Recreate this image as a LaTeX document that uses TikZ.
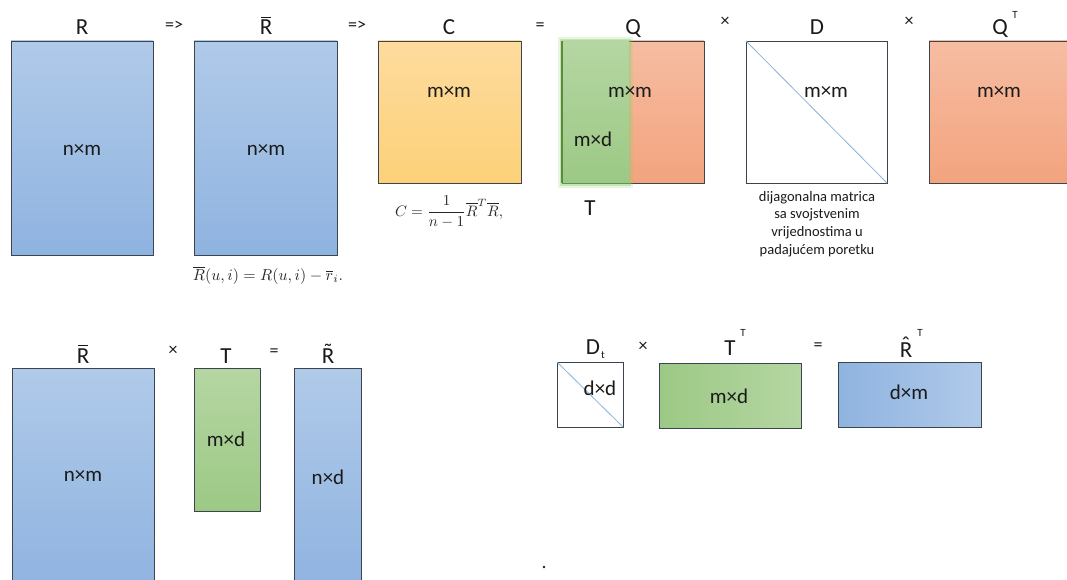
\documentclass[tikz,border=0pt]{standalone}
\usepackage{amsmath}
\usepackage{graphicx}
\usepackage{fontspec}
\setmainfont{Carlito}
\definecolor{bluetop}{HTML}{B0CAE9}
\definecolor{bluebot}{HTML}{8FB3E0}
\definecolor{orgtop}{HTML}{FEDB9E}
\definecolor{orgbot}{HTML}{FCD178}
\definecolor{saltop}{HTML}{F6BDA2}
\definecolor{salbot}{HTML}{F3A37E}
\definecolor{grntop}{HTML}{B5D6A2}
\definecolor{grnbot}{HTML}{9CC985}
\definecolor{grnedge}{HTML}{5B8A3C}
\definecolor{glowc}{HTML}{8ED16A}
\definecolor{edgegray}{HTML}{3C4450}
\definecolor{diagc}{HTML}{8DB3D6}
\definecolor{ink}{HTML}{1A1A1A}
% accented capital R built from Carlito glyphs
\newcommand{\myaccR}[2]{\ooalign{R\cr\hidewidth\raisebox{#2}{#1}\hidewidth\cr}}
\newcommand{\barR}{\myaccR{\rule{0.42em}{0.055em}}{0.72em}}
\newcommand{\tildeR}{\myaccR{\char"02DC}{0.17em}}
\newcommand{\hatR}{\myaccR{\char"02C6}{0.19em}}
\tikzset{
  mat/.style={draw=edgegray, line width=0.9pt, inner sep=0pt, outer sep=0pt, anchor=center},
  bluev/.style={mat, top color=bluetop, bottom color=bluebot},
  blueh/.style={mat, left color=bluebot, right color=bluetop},
  orangev/.style={mat, top color=orgtop, bottom color=orgbot},
  salmonv/.style={mat, top color=saltop, bottom color=salbot},
  greenv/.style={mat, top color=grntop, bottom color=grnbot},
  greenh/.style={mat, left color=grnbot, right color=grntop},
  whitebox/.style={mat, fill=white},
  ttl/.style={font=\fontsize{23}{23}\selectfont, inner sep=0pt, anchor=base, text=ink},
  dimlab/.style={font=\fontsize{21}{21}\selectfont, inner sep=0pt, anchor=center, text=ink},
  oplab/.style={font=\fontsize{18}{18}\selectfont, inner sep=0pt, anchor=center, text=ink},
  suplab/.style={font=\fontsize{11}{11}\selectfont, inner sep=0pt, anchor=center, text=ink},
  notelab/.style={font=\fontsize{14.5}{17.6}\selectfont, inner sep=0pt, anchor=center, align=center, text=ink},
  formula/.style={inner sep=0pt, anchor=center, text=black!85},
  diagline/.style={draw=diagc, line width=0.8pt},
}
\begin{document}
\begin{tikzpicture}[x=1pt,y=-1pt]
\useasboundingbox (0,0) rectangle (1067,580);
\begin{scope}
\clip (0,0) rectangle (1067,580);
% ---------- top row ----------
\node[bluev, minimum width=142pt, minimum height=214pt] (R) at (82,148) {};
\node[bluev, minimum width=143pt, minimum height=214pt] (Rb) at (265.5,148) {};
\node[orangev, minimum width=143pt, minimum height=142pt] (C) at (449.5,112) {};
\node[salmonv, minimum width=142pt, minimum height=142pt] (Q) at (633,112) {};
% glow around T part of Q
\node[draw=glowc, line width=8pt, opacity=0.2, inner sep=0pt, minimum width=67pt, minimum height=142pt] (Tglow2) at (595.5,112.5) {};
\node[draw=glowc, line width=4pt, opacity=0.4, inner sep=0pt, minimum width=67pt, minimum height=142pt] (Tglow) at (595.5,112.5) {};
\node[inner sep=0pt, outer sep=0pt, top color=grntop, bottom color=grnbot, minimum width=67pt, minimum height=142pt] (Tq) at (595.5,112) {};
\draw[grnedge, line width=1.2pt] (Tq.north west) -- (Tq.south west);
\node[whitebox, minimum width=141pt, minimum height=142pt] (D) at (816.5,112) {};
\draw[diagline] (D.north west) -- (D.south east);
\node[salmonv, minimum width=146pt, minimum height=142pt] (QT) at (1002,112) {};
% ---------- bottom row ----------
\node[bluev, minimum width=142pt, minimum height=222pt] (Rb2) at (83,479) {};
\node[greenv, minimum width=66pt, minimum height=143pt] (T2) at (227,439.5) {};
\node[bluev, minimum width=67pt, minimum height=222pt] (Rt) at (327.5,479) {};
\node[whitebox, minimum width=66pt, minimum height=65pt] (Dt) at (590,394.5) {};
\draw[diagline] (Dt.north west) -- (Dt.south east);
\node[greenh, minimum width=142pt, minimum height=65pt] (TT) at (730,395.5) {};
\node[blueh, minimum width=143pt, minimum height=65pt] (RhT) at (909.5,394.5) {};
\end{scope}
% ---------- titles, top ----------
\node[ttl] (tR) at (82,35) {R};
\node[oplab] (op1) at (174,26) {=>};
\node[ttl] (tRb) at (266,35) {\barR};
\node[oplab] (op2) at (357,26) {=>};
\node[ttl] (tC) at (449,35) {C};
\node[oplab] (op3) at (540,27) {=};
\node[ttl] (tQ) at (633,35) {Q};
\node[oplab] (op4) at (725,22) {×};
\node[ttl] (tD) at (817,35) {D};
\node[oplab] (op5) at (909,22) {×};
\node[ttl] (tQT) at (1000,35) {Q};
\node[suplab] (sQT) at (1015,15) {T};
% ---------- dimension labels, top ----------
\node[dimlab] (dR) at (82,150) {n×m};
\node[dimlab] (dRb) at (266,150) {n×m};
\node[dimlab] (dC) at (449,92) {m×m};
\node[dimlab] (dQ) at (630,92) {m×m};
\node[dimlab] (dT) at (593,139) {m×d};
\node[ttl] (tT) at (590,215) {T};
\node[dimlab] (dD) at (826,92) {m×m};
\node[dimlab] (dQT) at (999,92) {m×m};
\node[notelab] (note) at (817,224) {dijagonalna matrica\\sa svojstvenim\\vrijednostima u\\padajućem poretku};
% ---------- formulas ----------
\node[formula] (fRb) at (268,275) {\resizebox{150pt}{!}{$\overline{R}(u,i)=R(u,i)-\overline{r}_i.$}};
\node[formula] (fC) at (449,212) {\resizebox{108pt}{!}{$C=\dfrac{1}{n-1}\overline{R}^T\overline{R},$}};
% ---------- titles, bottom ----------
\node[ttl] (tRb2) at (83,363) {\barR};
\node[oplab] (op6) at (173,351) {×};
\node[ttl] (tT2) at (226,363) {T};
\node[oplab] (op7) at (274,353) {=};
\node[ttl] (tRt) at (328,363) {\tildeR};
\node[ttl] (tDt) at (593,354) {D};
\node[suplab] (sDt) at (603,355) {t};
\node[oplab] (op8) at (643,347) {×};
\node[ttl] (tTT) at (730,355) {T};
\node[suplab] (sTT) at (743,333) {T};
\node[oplab] (op9) at (818,347) {=};
\node[ttl] (tRh) at (906,357) {\hatR};
\node[suplab] (sRh) at (920,333) {T};
% ---------- dimension labels, bottom ----------
\node[dimlab] (dRb2) at (83,476) {n×m};
\node[dimlab] (dT2) at (226,439) {m×d};
\node[dimlab] (dRt) at (328,477) {n×d};
\node[dimlab] (dDt) at (600,388) {d×d};
\node[dimlab] (dTT) at (729,396) {m×d};
\node[dimlab] (dRhT) at (909,392) {d×m};
% stray dot
\fill[ink] (544,567) circle (1.3pt);
\end{tikzpicture}
\end{document}
